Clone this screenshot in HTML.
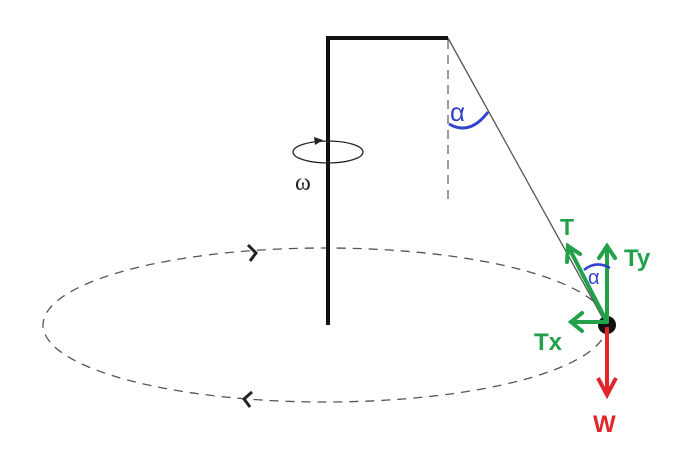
<!DOCTYPE html>
<html><head><meta charset="utf-8"><style>html,body{margin:0;padding:0;background:#fff;width:692px;height:453px;overflow:hidden}</style></head>
<body>
<svg width="692" height="453" viewBox="0 0 692 453" xmlns="http://www.w3.org/2000/svg">
<ellipse cx="325" cy="325" rx="282" ry="77" fill="none" stroke="#555" stroke-width="1.3" stroke-dasharray="9,7"/>
<path d="M248,245 L256,253 L250,261" fill="none" stroke="#222" stroke-width="3"/>
<path d="M252,392 L244,399 L250,407" fill="none" stroke="#222" stroke-width="3"/>
<path d="M328,325 L328,38 L448,38" fill="none" stroke="#111" stroke-width="4"/>
<line x1="448" y1="40" x2="448" y2="202" stroke="#666" stroke-width="1.3" stroke-dasharray="9,6"/>
<line x1="448" y1="38" x2="605" y2="322" stroke="#555" stroke-width="1.3"/>
<ellipse cx="328" cy="152" rx="35" ry="11" fill="none" stroke="#222" stroke-width="1.3"/>
<path d="M314,137 L323,140 L315,145 Z" fill="#222"/>
<text x="295" y="190" font-family="Liberation Serif, serif" font-size="24" fill="#222">ω</text>
<text x="450" y="121" font-family="Liberation Sans, sans-serif" font-size="26" fill="#3344cc">α</text>
<path d="M449,124 Q470,136 488,112" fill="none" stroke="#3344cc" stroke-width="3"/>
<circle cx="607" cy="325" r="9" fill="#111"/>
<line x1="607" y1="327" x2="607" y2="395" stroke="#e0262b" stroke-width="4"/>
<path d="M598,378 L607,395 L616,378" fill="none" stroke="#e0262b" stroke-width="4"/>
<text x="593" y="432" font-family="Liberation Sans, sans-serif" font-size="24" font-weight="bold" fill="#e0262b">W</text>
<g stroke="#22a04a" stroke-width="4" fill="none" stroke-linecap="round">
<line x1="607" y1="322" x2="568" y2="246"/>
<path d="M567,262 L568,246 L580,254"/>
<line x1="607" y1="322" x2="607" y2="246"/>
<path d="M599,258 L607,246 L615,258"/>
<line x1="607" y1="322" x2="571" y2="322"/>
<path d="M582,313 L571,322 L582,331"/>
</g>
<text x="560" y="235" font-family="Liberation Sans, sans-serif" font-size="23" font-weight="bold" fill="#22a04a">T</text>
<text x="624" y="266" font-family="Liberation Sans, sans-serif" font-size="24" font-weight="bold" fill="#22a04a">Ty</text>
<text x="534" y="350" font-family="Liberation Sans, sans-serif" font-size="24" font-weight="bold" fill="#22a04a">Tx</text>
<text x="588" y="284" font-family="Liberation Sans, sans-serif" font-size="20" fill="#3344cc">α</text>
<path d="M584,270 Q596,260 610,268" fill="none" stroke="#3344cc" stroke-width="2.5"/>
</svg>
</body></html>
